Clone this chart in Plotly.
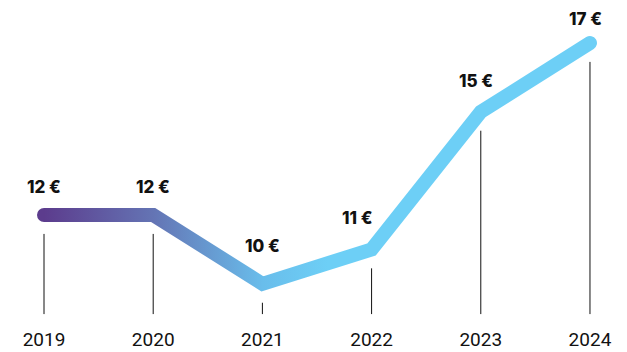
import plotly.graph_objects as go

# Price per year
years = [2019, 2020, 2021, 2022, 2023, 2024]
prices = [12, 12, 10, 11, 15, 17]
price_labels = ["12 €", "12 €", "10 €", "11 €", "15 €", "17 €"]

# label offsets in pixels (x, y) relative to each point
label_offsets = [(0, 28), (0, 28), (0, 38), (-14, 31), (-5, 31), (-4, 24)]

# drop lines: gap below each point and common baseline (in price units)
drop_gap = 0.55
drop_base = 9.12

fig = go.Figure()

# thin drop lines from under each point down to the year labels
dx, dy = [], []
for yr, p in zip(years, prices):
    dx += [yr, yr, None]
    dy += [p - drop_gap, drop_base, None]
fig.add_trace(go.Scatter(
    x=dx, y=dy, mode="lines",
    line=dict(color="#111111", width=1),
    hoverinfo="skip", showlegend=False,
))

# thick price line (gradient applied to its stroke after render)
fig.add_trace(go.Scatter(
    x=years, y=prices, mode="lines",
    line=dict(color="#6dcff6", width=14),
    hoverinfo="skip", showlegend=False,
))

for yr, p, txt, (ox, oy) in zip(years, prices, price_labels, label_offsets):
    fig.add_annotation(
        x=yr, y=p, text=txt, showarrow=False,
        xshift=ox, yshift=oy,
        font=dict(family="Inter", size=17, color="#111111", weight=800),
    )

fig.update_layout(
    width=627, height=352,
    margin=dict(l=0, r=0, t=0, b=30),
    paper_bgcolor="white", plot_bgcolor="white",
    xaxis=dict(
        range=[2018.597, 2024.339], showgrid=False, zeroline=False,
        showline=False, tickmode="array", tickvals=years,
        ticktext=[str(y) for y in years], ticks="",
        ticklabelstandoff=4,
        tickfont=dict(family="Roboto", size=19, color="#111111"),
    ),
    yaxis=dict(
        range=[8.89, 18.25], showgrid=False, zeroline=False,
        showline=False, showticklabels=False, ticks="",
    ),
)

post = """
(function(){
  var gd = document.getElementById('{plot_id}');
  function paint(){
    var svg = gd.querySelector('svg.main-svg');
    if (!svg) return;
    var ns = 'http://www.w3.org/2000/svg';
    var defs = svg.querySelector('defs');
    if (!defs) { defs = document.createElementNS(ns, 'defs'); svg.insertBefore(defs, svg.firstChild); }
    if (!svg.querySelector('#priceGrad')) {
      var g = document.createElementNS(ns, 'linearGradient');
      g.setAttribute('id', 'priceGrad');
      g.setAttribute('x1', '0'); g.setAttribute('y1', '0');
      g.setAttribute('x2', '1'); g.setAttribute('y2', '0');
      [['0', '#5c3c8d'], ['0.2', '#6474b4'], ['0.4', '#69bdeb'], ['0.52', '#6dcff6'], ['1', '#6dcff6']].forEach(function(s){
        var st = document.createElementNS(ns, 'stop');
        st.setAttribute('offset', s[0]);
        st.setAttribute('stop-color', s[1]);
        g.appendChild(st);
      });
      defs.appendChild(g);
    }
    var paths = gd.querySelectorAll('.scatterlayer .trace');
    if (paths.length > 1) {
      var p = paths[1].querySelector('path.js-line');
      if (p) {
        p.style.stroke = 'url(#priceGrad)';
        p.style.strokeLinecap = 'round';
        p.style.strokeLinejoin = 'miter';
      }
    }
  }
  paint();
  gd.on('plotly_afterplot', paint);
})();
"""

fig.write_html("out.html", post_script=post)
